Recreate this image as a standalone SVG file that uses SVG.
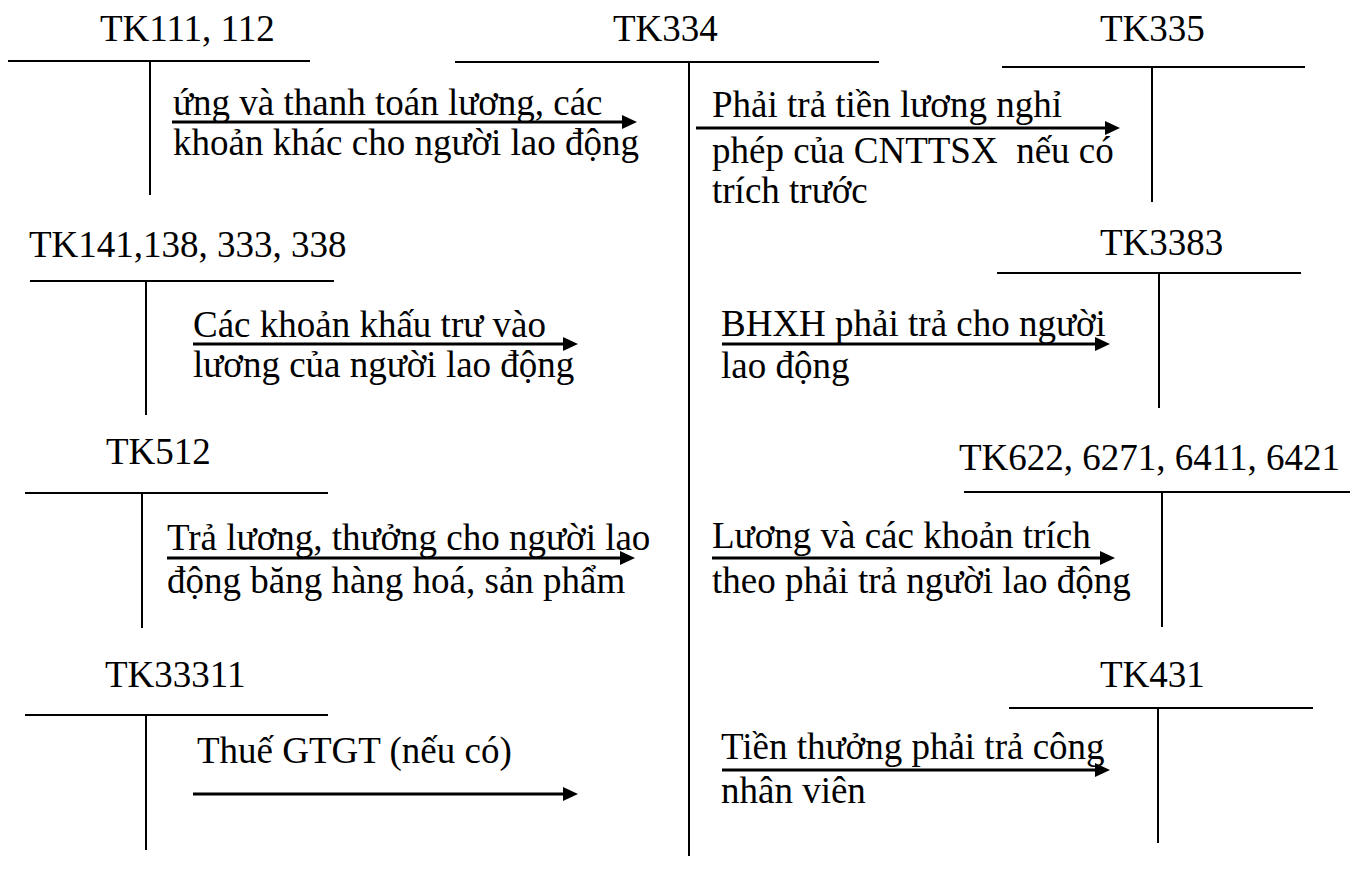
<svg xmlns="http://www.w3.org/2000/svg" width="1355" height="884" viewBox="0 0 1355 884">
  <style>
    .bg { fill: #ffffff; }
    .t { font-family: "Liberation Serif", "Times New Roman", serif; font-size: 37px; fill: #000000; }
    .rule { stroke: #000000; stroke-width: 2; fill: none; }
    .flow { stroke: #000000; stroke-width: 3; fill: none; marker-end: url(#head); }
  </style>
  <defs>
    <marker id="head" markerUnits="userSpaceOnUse" markerWidth="16" markerHeight="15" refX="0" refY="7" orient="auto">
      <path d="M0,0 L15,7 L0,14 z" fill="#000000"/>
    </marker>
  </defs>

  <rect class="bg" x="0" y="0" width="1355" height="884"/>

  <!-- T-accounts -->
  <g id="tk111">
    <text class="t" x="100" y="41">TK111, 112</text>
    <line class="rule" x1="8" y1="61" x2="310" y2="61"/>
    <line class="rule" x1="150" y1="61" x2="150" y2="195"/>
  </g>
  <g id="tk334">
    <text class="t" x="613" y="41">TK334</text>
    <line class="rule" x1="455" y1="62" x2="879" y2="62"/>
    <line class="rule" x1="689" y1="62" x2="689" y2="856"/>
  </g>
  <g id="tk335">
    <text class="t" x="1100" y="41">TK335</text>
    <line class="rule" x1="1002" y1="67" x2="1305" y2="67"/>
    <line class="rule" x1="1152" y1="67" x2="1152" y2="202"/>
  </g>
  <g id="tk141">
    <text class="t" x="29" y="257">TK141,138, 333, 338</text>
    <line class="rule" x1="30" y1="281" x2="334" y2="281"/>
    <line class="rule" x1="146" y1="281" x2="146" y2="415"/>
  </g>
  <g id="tk3383">
    <text class="t" x="1100" y="255">TK3383</text>
    <line class="rule" x1="997" y1="273" x2="1301" y2="273"/>
    <line class="rule" x1="1159" y1="273" x2="1159" y2="408"/>
  </g>
  <g id="tk512">
    <text class="t" x="106" y="464">TK512</text>
    <line class="rule" x1="25" y1="493" x2="328" y2="493"/>
    <line class="rule" x1="142" y1="493" x2="142" y2="628"/>
  </g>
  <g id="tk622">
    <text class="t" x="959" y="470">TK622, 6271, 6411, 6421</text>
    <line class="rule" x1="964" y1="492" x2="1350" y2="492"/>
    <line class="rule" x1="1162" y1="492" x2="1162" y2="627"/>
  </g>
  <g id="tk33311">
    <text class="t" x="105" y="687">TK33311</text>
    <line class="rule" x1="25" y1="715" x2="328" y2="715"/>
    <line class="rule" x1="146" y1="715" x2="146" y2="850"/>
  </g>
  <g id="tk431">
    <text class="t" x="1100" y="687">TK431</text>
    <line class="rule" x1="1009" y1="708" x2="1313" y2="708"/>
    <line class="rule" x1="1158" y1="708" x2="1158" y2="843"/>
  </g>

  <!-- Postings between accounts -->
  <g id="connectors">
    <g id="f111">
      <line class="flow" x1="172" y1="122" x2="622" y2="122"/>
      <text class="t" x="173" y="115">ứng và thanh toán lương, các</text>
      <text class="t" x="173" y="155">khoản khác cho người lao động</text>
    </g>
    <g id="f335">
      <line class="flow" x1="696" y1="128" x2="1105" y2="128"/>
      <text class="t" x="712" y="117">Phải trả tiền lương nghỉ</text>
      <text class="t" x="712" y="163" xml:space="preserve">phép của CNTTSX  nếu có</text>
      <text class="t" x="712" y="203">trích trước</text>
    </g>
    <g id="f141">
      <line class="flow" x1="193" y1="344" x2="563" y2="344"/>
      <text class="t" x="193" y="337">Các khoản khấu trư vào</text>
      <text class="t" x="193" y="377">lương của người lao động</text>
    </g>
    <g id="f3383">
      <line class="flow" x1="722" y1="344" x2="1095" y2="344"/>
      <text class="t" x="721" y="336">BHXH phải trả cho người</text>
      <text class="t" x="721" y="378">lao động</text>
    </g>
    <g id="f512">
      <line class="flow" x1="167" y1="558" x2="620" y2="558"/>
      <text class="t" x="167" y="550">Trả lương, thưởng cho người lao</text>
      <text class="t" x="167" y="593">động băng hàng hoá, sản phẩm</text>
    </g>
    <g id="f622">
      <line class="flow" x1="712" y1="558" x2="1100" y2="558"/>
      <text class="t" x="712" y="548">Lương và các khoản trích</text>
      <text class="t" x="712" y="593">theo phải trả người lao động</text>
    </g>
    <g id="f33311">
      <line class="flow" x1="193" y1="794" x2="563" y2="794"/>
      <text class="t" x="197" y="763">Thuế GTGT (nếu có)</text>
    </g>
    <g id="f431">
      <line class="flow" x1="722" y1="770" x2="1095" y2="770"/>
      <text class="t" x="721" y="759">Tiền thưởng phải trả công</text>
      <text class="t" x="721" y="803">nhân viên</text>
    </g>
  </g>
</svg>
